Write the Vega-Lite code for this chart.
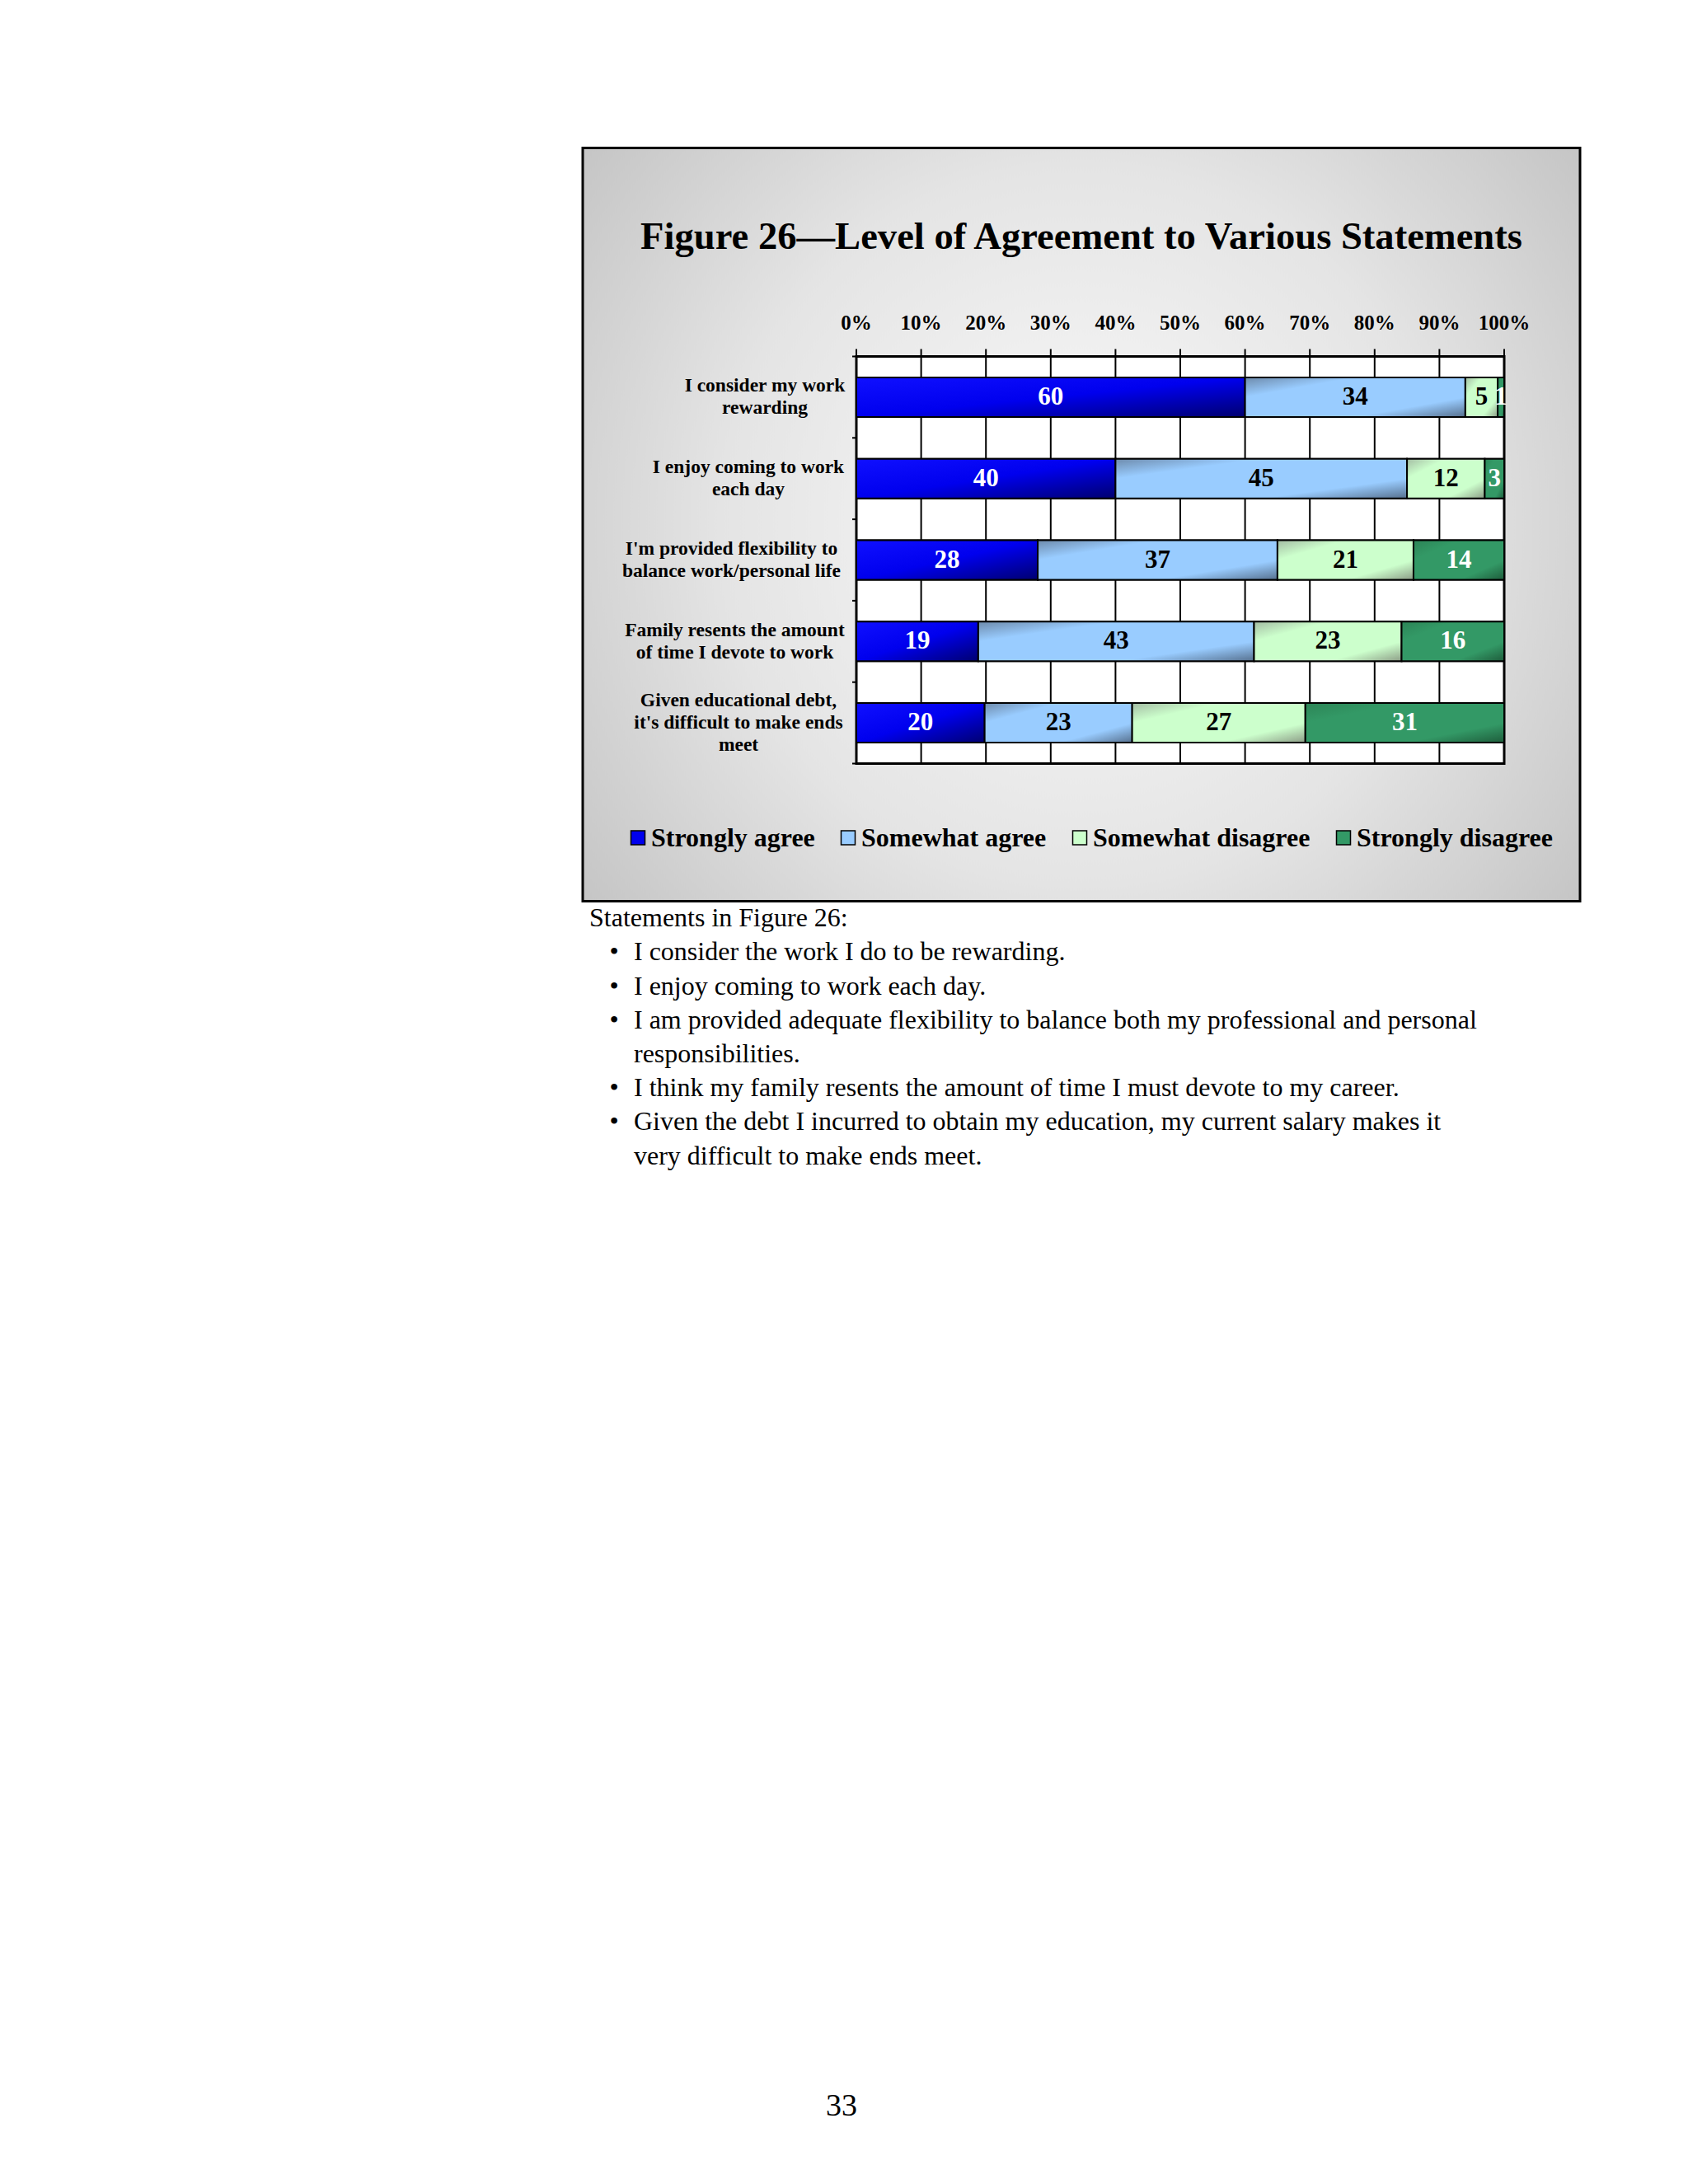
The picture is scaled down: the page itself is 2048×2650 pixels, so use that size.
{
  "$schema": "https://vega.github.io/schema/vega-lite/v6.json",
  "background": "white",
  "padding": {"left": 691, "top": 177.5, "right": 0, "bottom": 0},
  "config": {"view": {"stroke": null}},
  "bounds": "flush",
  "spacing": -2,
  "vconcat": [
    {
      "width": 1210,
      "height": 914,
      "view": {
        "fill": {
          "gradient": "radial",
          "x1": 0.5, "y1": 0.5, "r1": 0,
          "x2": 0.5, "y2": 0.5, "r2": 0.72,
          "stops": [
            {"offset": 0, "color": "#fafafa"},
            {"offset": 0.5, "color": "#e4e4e4"},
            {"offset": 1, "color": "#bababa"}
          ]
        },
        "stroke": "black",
        "strokeWidth": 3
      },
      "title": {
        "text": "Figure 26—Level of Agreement to Various Statements",
        "font": "Liberation Serif",
        "fontSize": 46.6,
        "fontWeight": "bold",
        "color": "black",
        "anchor": "middle",
        "frame": "group",
        "baseline": "alphabetic",
        "offset": -169
      },
      "layer": [
        {
          "data": {"values": [
            {"g": 0}, {"g": 0.1}, {"g": 0.2}, {"g": 0.3}, {"g": 0.4}, {"g": 0.5},
            {"g": 0.6}, {"g": 0.7}, {"g": 0.8}, {"g": 0.9}, {"g": 1}
          ]},
          "encoding": {
            "x": {"field": "g", "type": "quantitative", "scale": {"domain": [0, 1], "range": [332, 1118], "nice": false, "zero": false}, "axis": null}
          },
          "layer": [
            {
              "transform": [{"filter": "datum.g === 0"}],
              "mark": {"type": "rect", "fill": "white", "stroke": "black", "strokeWidth": 3},
              "encoding": {
                "x": {"datum": 0, "type": "quantitative", "scale": {"domain": [0, 1], "range": [332, 1118], "nice": false, "zero": false}, "axis": null},
                "x2": {"datum": 1},
                "y": {"datum": 0, "type": "quantitative", "scale": {"domain": [0, 1], "range": [747, 253], "nice": false, "zero": false}, "axis": null},
                "y2": {"datum": 1}
              }
            },
            {
              "mark": {"type": "rule", "color": "black", "strokeWidth": 2},
              "encoding": {
                "y": {"datum": 0, "type": "quantitative", "scale": {"domain": [0, 1], "range": [747, 253], "nice": false, "zero": false}, "axis": null},
                "y2": {"datum": 1.0182}
              }
            },
            {
              "transform": [{"filter": "indexof([0, 0.2, 0.4, 0.6, 0.8, 1], datum.g) >= 0"}],
              "mark": {"type": "rule", "color": "black", "strokeWidth": 2},
              "encoding": {
                "x": {"datum": -0.0064, "type": "quantitative", "scale": {"domain": [0, 1], "range": [332, 1118], "nice": false, "zero": false}, "axis": null},
                "x2": {"datum": 0},
                "y": {"field": "g", "type": "quantitative", "scale": {"domain": [0, 1], "range": [747, 253], "nice": false, "zero": false}, "axis": null}
              }
            },
            {
              "mark": {"type": "text", "font": "Liberation Serif", "fontWeight": "bold", "fontSize": 25, "align": "center", "baseline": "alphabetic", "color": "black"},
              "encoding": {
                "y": {"datum": 1.0648, "type": "quantitative", "scale": {"domain": [0, 1], "range": [747, 253], "nice": false, "zero": false}, "axis": null},
                "text": {"field": "g", "type": "quantitative", "format": ".0%"}
              }
            }
          ]
        },
        {
          "data": {"values": [
            {"statement": "I consider my work\nrewarding", "response": "Strongly agree", "level": 1, "pct": 60},
            {"statement": "I consider my work\nrewarding", "response": "Somewhat agree", "level": 2, "pct": 34},
            {"statement": "I consider my work\nrewarding", "response": "Somewhat disagree", "level": 3, "pct": 5},
            {"statement": "I consider my work\nrewarding", "response": "Strongly disagree", "level": 4, "pct": 1},
            {"statement": "I enjoy coming to work\neach day", "response": "Strongly agree", "level": 1, "pct": 40},
            {"statement": "I enjoy coming to work\neach day", "response": "Somewhat agree", "level": 2, "pct": 45},
            {"statement": "I enjoy coming to work\neach day", "response": "Somewhat disagree", "level": 3, "pct": 12},
            {"statement": "I enjoy coming to work\neach day", "response": "Strongly disagree", "level": 4, "pct": 3},
            {"statement": "I'm provided flexibility to\nbalance work/personal life", "response": "Strongly agree", "level": 1, "pct": 28},
            {"statement": "I'm provided flexibility to\nbalance work/personal life", "response": "Somewhat agree", "level": 2, "pct": 37},
            {"statement": "I'm provided flexibility to\nbalance work/personal life", "response": "Somewhat disagree", "level": 3, "pct": 21},
            {"statement": "I'm provided flexibility to\nbalance work/personal life", "response": "Strongly disagree", "level": 4, "pct": 14},
            {"statement": "Family resents the amount\nof time I devote to work", "response": "Strongly agree", "level": 1, "pct": 19},
            {"statement": "Family resents the amount\nof time I devote to work", "response": "Somewhat agree", "level": 2, "pct": 43},
            {"statement": "Family resents the amount\nof time I devote to work", "response": "Somewhat disagree", "level": 3, "pct": 23},
            {"statement": "Family resents the amount\nof time I devote to work", "response": "Strongly disagree", "level": 4, "pct": 16},
            {"statement": "Given educational debt,\nit's difficult to make ends\nmeet", "response": "Strongly agree", "level": 1, "pct": 20},
            {"statement": "Given educational debt,\nit's difficult to make ends\nmeet", "response": "Somewhat agree", "level": 2, "pct": 23},
            {"statement": "Given educational debt,\nit's difficult to make ends\nmeet", "response": "Somewhat disagree", "level": 3, "pct": 27},
            {"statement": "Given educational debt,\nit's difficult to make ends\nmeet", "response": "Strongly disagree", "level": 4, "pct": 31}
          ]},
          "transform": [
            {"stack": "pct", "groupby": ["statement"], "sort": [{"field": "level", "order": "ascending"}], "offset": "normalize", "as": ["v0", "v1"]},
            {"calculate": "(datum.v0 + datum.v1) / 2", "as": "mid"}
          ],
          "encoding": {
            "y": {
              "field": "statement", "type": "nominal", "sort": null,
              "scale": {
                "domain": [
                  "I consider my work\nrewarding",
                  "I enjoy coming to work\neach day",
                  "I'm provided flexibility to\nbalance work/personal life",
                  "Family resents the amount\nof time I devote to work",
                  "Given educational debt,\nit's difficult to make ends\nmeet"
                ],
                "range": [253, 747], "paddingInner": 0, "paddingOuter": 0
              },
              "axis": {
                "orient": "left", "offset": -332, "domain": false, "ticks": false, "grid": false,
                "labelAlign": "center", "labelBaseline": "middle",
                "labelPadding": {
                  "condition": [
                    {"test": "indexof(datum.value, 'rewarding') >= 0", "value": 111.5},
                    {"test": "indexof(datum.value, 'each day') >= 0", "value": 131.5},
                    {"test": "indexof(datum.value, 'flexibility') >= 0", "value": 152},
                    {"test": "indexof(datum.value, 'Family') >= 0", "value": 148}
                  ],
                  "value": 143.5
                },
                "labelOffset": {
                  "condition": {"test": "indexof(datum.value, 'meet') >= 0", "value": -27},
                  "value": -13.7
                },
                "labelFont": "Liberation Serif", "labelFontWeight": "bold", "labelFontSize": 23.5,
                "labelLineHeight": 27.2, "labelColor": "black", "labelLimit": 0,
                "labelExpr": "split(datum.label, '\\n')", "title": null
              }
            },
            "x": {
              "field": "v0", "type": "quantitative",
              "scale": {"domain": [0, 1], "range": [332, 1118], "nice": false, "zero": false},
              "axis": null
            }
          },
          "layer": [
            {
              "mark": {"type": "bar", "height": 48, "stroke": "black", "strokeWidth": 2},
              "encoding": {
                "x2": {"field": "v1"},
                "color": {
                  "field": "response", "type": "nominal",
                  "scale": {
                    "domain": ["Strongly agree", "Somewhat agree", "Somewhat disagree", "Strongly disagree"],
                    "range": ["#0000ee", "#99ccff", "#ccffcc", "#339966"]
                  },
                  "legend": {
                    "orient": "none", "legendX": 51, "legendY": 821, "direction": "horizontal",
                    "title": null, "symbolType": "square", "symbolSize": 289,
                    "symbolStrokeColor": "black", "symbolStrokeWidth": 1.5,
                    "labelFont": "Liberation Serif", "labelFontWeight": "bold", "labelFontSize": 32,
                    "labelColor": "black", "labelOffset": 0, "columnPadding": 24, "padding": 0, "labelLimit": 0
                  }
                }
              }
            },
            {
              "transform": [{"filter": "datum.level === 1"}],
              "mark": {"type": "bar", "height": 48, "stroke": "black", "strokeWidth": 2,
                "fill": {"gradient": "linear", "x1": 0, "y1": 0, "x2": 1, "y2": 1, "stops": [
                  {"offset": 0, "color": "#1010ff"}, {"offset": 0.5, "color": "#0000ee"}, {"offset": 1, "color": "#000070"}]}},
              "encoding": {"x2": {"field": "v1"}}
            },
            {
              "transform": [{"filter": "datum.level === 2"}],
              "mark": {"type": "bar", "height": 48, "stroke": "black", "strokeWidth": 2,
                "fill": {"gradient": "linear", "x1": 0, "y1": 0, "x2": 1, "y2": 1, "stops": [
                  {"offset": 0, "color": "#6d8aab"}, {"offset": 0.25, "color": "#99ccff"}, {"offset": 0.75, "color": "#99ccff"}, {"offset": 1, "color": "#56708e"}]}},
              "encoding": {"x2": {"field": "v1"}}
            },
            {
              "transform": [{"filter": "datum.level === 3"}],
              "mark": {"type": "bar", "height": 48, "stroke": "black", "strokeWidth": 2,
                "fill": {"gradient": "linear", "x1": 0, "y1": 0, "x2": 1, "y2": 1, "stops": [
                  {"offset": 0, "color": "#a3bca3"}, {"offset": 0.25, "color": "#ccffcc"}, {"offset": 0.75, "color": "#ccffcc"}, {"offset": 1, "color": "#8c9c86"}]}},
              "encoding": {"x2": {"field": "v1"}}
            },
            {
              "transform": [{"filter": "datum.level === 4"}],
              "mark": {"type": "bar", "height": 48, "stroke": "black", "strokeWidth": 2,
                "fill": {"gradient": "linear", "x1": 0, "y1": 0, "x2": 1, "y2": 1, "stops": [
                  {"offset": 0, "color": "#2c8456"}, {"offset": 0.25, "color": "#339966"}, {"offset": 0.75, "color": "#339966"}, {"offset": 1, "color": "#1e5c3b"}]}},
              "encoding": {"x2": {"field": "v1"}}
            },
            {
              "mark": {"type": "text", "font": "Liberation Serif", "fontWeight": "bold", "fontSize": 31, "align": "center", "baseline": "middle"},
              "encoding": {
                "x": {"field": "mid", "type": "quantitative", "scale": {"domain": [0, 1], "range": [332, 1118], "nice": false, "zero": false}, "axis": null},
                "text": {"field": "pct", "type": "quantitative"},
                "color": {"condition": {"test": "datum.level === 1 || datum.level === 4", "value": "white"}, "value": "black"}
              }
            }
          ]
        }
      ],
      "resolve": {"scale": {"y": "independent"}}
    },
    {
      "width": 1210,
      "height": 1442,
      "data": {"values": [
        {"line": "Statements in Figure 26:", "kind": "head", "bullet": false},
        {"line": "I consider the work I do to be rewarding.", "kind": "item", "bullet": true},
        {"line": "I enjoy coming to work each day.", "kind": "item", "bullet": true},
        {"line": "I am provided adequate flexibility to balance both my professional and personal", "kind": "item", "bullet": true},
        {"line": "responsibilities.", "kind": "item", "bullet": false},
        {"line": "I think my family resents the amount of time I must devote to my career.", "kind": "item", "bullet": true},
        {"line": "Given the debt I incurred to obtain my education, my current salary makes it", "kind": "item", "bullet": true},
        {"line": "very difficult to make ends meet.", "kind": "item", "bullet": false}
      ]},
      "encoding": {
        "y": {"field": "line", "type": "nominal", "sort": null, "axis": null, "scale": {"type": "point", "range": [20.6, 309], "padding": 0}},
        "x": {"field": "kind", "type": "nominal", "axis": null, "scale": {"type": "point", "domain": ["head", "item"], "range": [8, 62], "padding": 0}}
      },
      "layer": [
        {
          "mark": {"type": "text", "align": "left", "baseline": "middle", "font": "Liberation Serif", "fontSize": 32, "color": "black"},
          "encoding": {"text": {"field": "line"}}
        },
        {
          "mark": {"type": "text", "align": "center", "baseline": "middle", "font": "Liberation Serif", "fontSize": 32, "dx": -24, "color": "black"},
          "encoding": {"text": {"condition": {"test": "datum.bullet", "value": "•"}, "value": ""}}
        }
      ]
    },
    {
      "width": 628,
      "height": 40,
      "data": {"values": [{"page": "33"}]},
      "mark": {"type": "text", "font": "Liberation Serif", "fontSize": 38, "baseline": "middle", "align": "center", "color": "black"},
      "encoding": {"text": {"field": "page"}}
    }
  ]
}
